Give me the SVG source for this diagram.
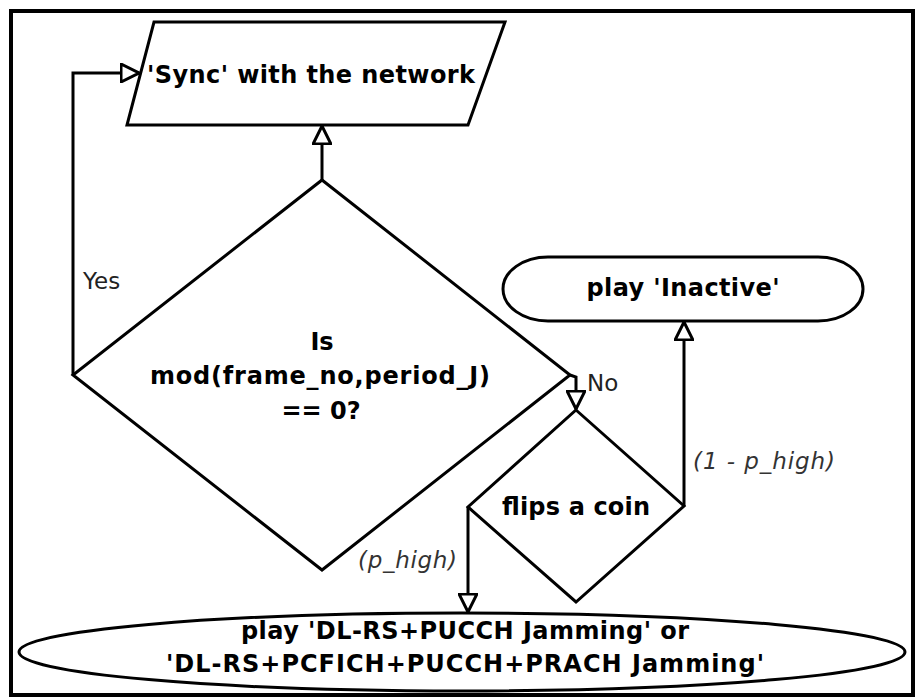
<svg xmlns="http://www.w3.org/2000/svg" width="917" height="698" viewBox="0 0 917 698">
  <style>
    .shape { fill: #ffffff; stroke: #000000; stroke-width: 3; stroke-linejoin: miter; }
    .edge { fill: none; stroke: #000000; stroke-width: 3; }
    .node-text { font-family: "DejaVu Sans", Verdana, sans-serif; font-weight: bold; font-size: 24px; fill: #000000; text-anchor: middle; }
    .label { font-family: "DejaVu Sans", Verdana, sans-serif; font-size: 23px; fill: #222222; }
    .label-prob { font-family: "DejaVu Sans", Verdana, sans-serif; font-style: italic; font-size: 23px; fill: #333333; }
  </style>
  <defs>
    <!-- open block arrowhead -->
    <marker id="open-block" viewBox="0 0 20 20" refX="19" refY="10" markerWidth="20" markerHeight="20" markerUnits="userSpaceOnUse" orient="auto">
      <path d="M1,1 L19,10 L1,19 Z" fill="#ffffff" stroke="#000000" stroke-width="3" stroke-linejoin="miter"/>
    </marker>
  </defs>

  <rect width="917" height="698" fill="#ffffff"/>
  <!-- frame -->
  <rect x="11" y="11" width="902" height="684" fill="none" stroke="#000000" stroke-width="4"/>

  <g id="connectors">
    <!-- Yes: back to sync -->
    <polyline class="edge" points="73,375 73,73 139,73" marker-end="url(#open-block)"/>
    <!-- decision to sync -->
    <polyline class="edge" points="322,180 322,126" marker-end="url(#open-block)"/>
    <!-- No: to coin flip -->
    <polyline class="edge" points="570,375 576,377 576,409" marker-end="url(#open-block)"/>
    <!-- (1 - p_high): to inactive -->
    <polyline class="edge" points="684,506 684,322" marker-end="url(#open-block)"/>
    <!-- (p_high): to jamming -->
    <polyline class="edge" points="468,507 468,612" marker-end="url(#open-block)"/>
  </g>

  <g id="edge-labels">
    <text class="label" x="83" y="289">Yes</text>
    <text class="label" x="587" y="391">No</text>
    <text class="label-prob" x="693" y="469" textLength="142" lengthAdjust="spacing">(1 - p_high)</text>
    <text class="label-prob" x="358" y="568" textLength="99" lengthAdjust="spacing">(p_high)</text>
  </g>

  <g id="sync">
    <polygon class="shape" points="154,22 505,22 468,125 127,125"/>
    <text class="node-text" x="311" y="83" textLength="328" lengthAdjust="spacing">'Sync' with the network</text>
  </g>

  <g id="check-period">
    <polygon class="shape" points="322,180 570,375 322,570 73,375"/>
    <text class="node-text" x="322" y="350">Is</text>
    <text class="node-text" x="320" y="384" textLength="340" lengthAdjust="spacing">mod(frame_no,period_J)</text>
    <text class="node-text" x="321" y="419">== 0?</text>
  </g>

  <g id="coin-flip">
    <polygon class="shape" points="576,410 684,506 576,602 468,507"/>
    <text class="node-text" x="576" y="515" textLength="148" lengthAdjust="spacing">flips a coin</text>
  </g>

  <g id="inactive">
    <rect class="shape" x="503" y="257" width="360" height="64" rx="45" ry="32"/>
    <text class="node-text" x="683" y="296" textLength="193" lengthAdjust="spacing">play 'Inactive'</text>
  </g>

  <g id="jamming">
    <ellipse class="shape" cx="462" cy="652" rx="443" ry="39"/>
    <text class="node-text" x="465" y="639" textLength="448" lengthAdjust="spacing">play 'DL-RS+PUCCH Jamming' or</text>
    <text class="node-text" x="465" y="672" textLength="598" lengthAdjust="spacing">'DL-RS+PCFICH+PUCCH+PRACH Jamming'</text>
  </g>
</svg>
